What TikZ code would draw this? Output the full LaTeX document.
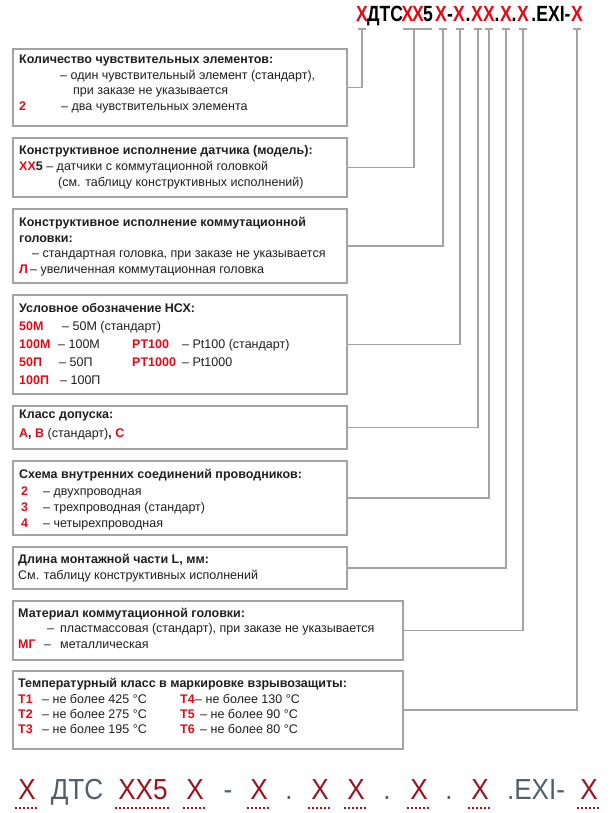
\documentclass[tikz,border=0pt]{standalone}
\usepackage{fontspec}
\setmainfont{Liberation Sans}
\newfontfamily\codefont[FakeStretch=0.8]{Liberation Sans}
\newfontfamily\rowfont[FakeStretch=0.9]{Liberation Sans}
\usetikzlibrary{positioning}
\definecolor{framegray}{RGB}{163,163,163}
\definecolor{keyred}{RGB}{226,10,22}
\definecolor{rowred}{RGB}{158,18,30}
\definecolor{rowgray}{RGB}{82,94,104}
\newcommand{\keyr}[1]{\textcolor{keyred}{\bfseries #1}}
\tikzset{font=\fontsize{12.5}{14}\selectfont}
\tikzset{
  frame/.style={draw=framegray, line width=1.6pt, anchor=north west, inner sep=0pt, minimum width=334pt},
  lead/.style={draw=framegray, line width=1.5pt},
  txt/.style={anchor=base west, inner sep=0pt, text=black!88},
  head/.style={txt, font=\fontsize{12.5}{14}\selectfont\bfseries},
  topcode/.style={anchor=base, inner sep=0pt, font=\codefont\fontsize{22}{22}\selectfont\bfseries},
  rowcode/.style={anchor=base, inner sep=0pt, font=\rowfont\fontsize{29}{29}\selectfont},
  rowdots/.style={draw=rowred, line width=1.6pt, dash pattern=on 1.6pt off 2.4pt}
}

\begin{document}
\begin{tikzpicture}[x=1pt,y=-1pt]
  \path[use as bounding box, fill=white] (0,0) rectangle (612,813);

  % code on top
  \foreach \gx/\gc/\gt [count=\i] in {362/keyred/X, 385/black/ДТС, 407.5/keyred/X, 418/keyred/X,
      428/black/5, 441/keyred/X, 450/black/-, 459/keyred/X, 468/black/., 477/keyred/X,
      489/keyred/X, 497/black/., 506/keyred/X, 514/black/., 523/keyred/X, 551/black/.EXI-,
      577/keyred/X}
    \node[topcode, text=\gc] (g\i) at (\gx,22) {\gt};

  % boxes
  \node[frame, minimum height=77pt] (b1) at (12,48) {};
  \node[frame, minimum height=59pt] (b2) at (12,137) {};
  \node[frame, minimum height=74pt] (b3) at (12,208) {};
  \node[frame, minimum height=99pt] (b4) at (12,294) {};
  \node[frame, minimum height=43pt] (b5) at (12,405) {};
  \node[frame, minimum height=74pt] (b6) at (12,460) {};
  \node[frame, minimum height=42pt] (b7) at (12,546) {};
  \node[frame, minimum width=390pt, minimum height=59pt] (b8) at (12,600) {};
  \node[frame, minimum width=390pt, minimum height=78pt] (b9) at (12,670) {};

  % number of elements
  \node[head] (h1) at (19,64) {Количество чувствительных элементов:};
  \node[txt] (t1a) at (60,80) {– один чувствительный элемент (стандарт),};
  \node[txt] (t1b) at (73,95) {при заказе не указывается};
  \node[txt] (k1c) at (19,111) {\keyr{2}};
  \node[txt] (t1c) at (61,111) {– два чувствительных элемента};

  % model
  \node[head] (h2) at (19,155) {Конструктивное исполнение датчика (модель):};
  \node[txt] (t2a) at (19,171) {\keyr{XX}\textbf{5} – датчики с коммутационной головкой};
  \node[txt] (t2b) at (58,186) {(см. таблицу конструктивных исполнений)};

  % head
  \node[head] (h3) at (19,226) {Конструктивное исполнение коммутационной};
  \node[head] (h3b) at (19,242) {головки:};
  \node[txt] (t3a) at (32,257) {– стандартная головка, при заказе не указывается};
  \node[txt] (k3b) at (19,273) {\keyr{Л}};
  \node[txt] (t3b) at (30,273) {– увеличенная коммутационная головка};

  % NSH
  \node[head] (h4) at (19,312) {Условное обозначение НСХ:};
  \node[txt] (k4a) at (19,330) {\keyr{50М}};
  \node[txt] (t4a) at (62,330) {– 50М (стандарт)};
  \node[txt] (k4b) at (19,348) {\keyr{100М}};
  \node[txt] (t4b) at (58,348) {– 100М};
  \node[txt] (k4c) at (132,348) {\keyr{PT100}};
  \node[txt] (t4c) at (182,348) {– Pt100 (стандарт)};
  \node[txt] (k4d) at (19,366) {\keyr{50П}};
  \node[txt] (t4d) at (59,366) {– 50П};
  \node[txt] (k4e) at (132,366) {\keyr{PT1000}};
  \node[txt] (t4e) at (182,366) {– Pt1000};
  \node[txt] (k4f) at (19,384) {\keyr{100П}};
  \node[txt] (t4f) at (60,384) {– 100П};

  % tolerance
  \node[head] (h5) at (19,418) {Класс допуска:};
  \node[txt] (t5a) at (19,437) {\keyr{А}\textbf{,} \keyr{В} (стандарт)\textbf{,} \keyr{С}};

  % wiring
  \node[head] (h6) at (19,478) {Схема внутренних соединений проводников:};
  \foreach \wy/\wk/\wt [count=\i] in {495/2/двухпроводная, 511/3/трехпроводная (стандарт),
      527/4/четырехпроводная}{
    \node[txt] (k6\i) at (21,\wy) {\keyr{\wk}};
    \node[txt] (t6\i) at (43,\wy) {– \wt};
  }

  % length
  \node[head] (h7) at (18,563) {Длина монтажной части L, мм:};
  \node[txt] (t7a) at (18,579) {См. таблицу конструктивных исполнений};

  % material
  \node[head] (h8) at (18,617) {Материал коммутационной головки:};
  \node[txt] (d8a) at (47,632) {–};
  \node[txt] (t8a) at (60,632) {пластмассовая (стандарт), при заказе не указывается};
  \node[txt] (k8b) at (18,648) {\keyr{МГ}};
  \node[txt] (d8b) at (44,648) {–};
  \node[txt] (t8b) at (60,648) {металлическая};

  % temperature class
  \node[head] (h9) at (18,687) {Температурный класс в маркировке взрывозащиты:};
  \node[txt] (k9a) at (18,703) {\keyr{T1}};
  \node[txt] (t9a) at (42,703) {– не более 425 °C};
  \node[txt] (k9b) at (18,718) {\keyr{T2}};
  \node[txt] (t9b) at (42,718) {– не более 275 °C};
  \node[txt] (k9c) at (18,733) {\keyr{T3}};
  \node[txt] (t9c) at (42,733) {– не более 195 °C};
  \node[txt] (k9d) at (180,703) {\keyr{T4}};
  \node[txt] (t9d) at (195,703) {– не более 130 °C};
  \node[txt] (k9e) at (180,718) {\keyr{T5}};
  \node[txt] (t9e) at (200,718) {– не более 90 °C};
  \node[txt] (k9f) at (180,733) {\keyr{T6}};
  \node[txt] (t9f) at (200,733) {– не более 80 °C};

  % leads from the boxes up to the code
  \foreach \k/\kx/\kl/\kw in {1/362/4/4, 2/414/11/18, 3/443/4/4, 4/460/4/4, 5/478/4/4,
      6/489/4/4, 7/506/4/4, 8/523/4/4, 9/577/4/4}{
    \coordinate (p\k) at (\kx,29);
    \draw[lead] (b\k.east) -| (p\k);
    \draw[lead] ([xshift=-\kl pt]p\k) -- ([xshift=\kw pt]p\k);
  }

  % code at the bottom
  \foreach \bx/\bc/\bt [count=\i] in {27/rowred/X, 77/rowgray/ДТС, 143/rowred/XX5, 195/rowred/X,
      228/rowgray/-, 259/rowred/X, 289/rowgray/., 320/rowred/X, 356/rowred/X, 387/rowgray/.,
      419/rowred/X, 449/rowgray/., 480/rowred/X, 536/rowgray/.EXI-, 589/rowred/X}
    \node[rowcode, text=\bc] (c\i) at (\bx,799) {\bt};
  \foreach \i in {1,3,4,6,8,9,11,13,15}
    \draw[rowdots] ([xshift=-3pt,yshift=-9pt]c\i.base west) -- ([xshift=3pt,yshift=-9pt]c\i.base east);
\end{tikzpicture}
\end{document}
